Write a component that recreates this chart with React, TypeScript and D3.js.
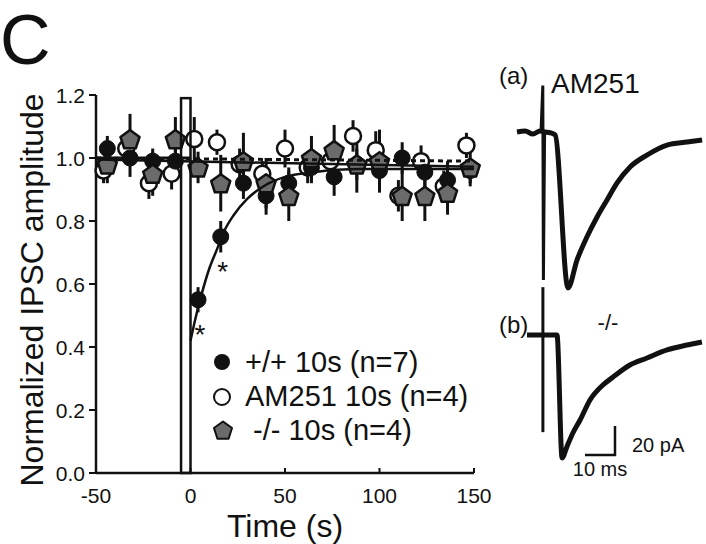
import React from 'react';
import * as d3 from 'd3';

// ---------- data ----------
const timesWT = [-44, -32, -20, -8, 4, 16, 28, 40, 52, 64, 76, 88, 100, 112, 124, 136, 148];
const wtMean = [1.03, 1.0, 0.99, 0.99, 0.55, 0.75, 0.92, 0.88, 0.92, 0.97, 0.94, 0.98, 0.96, 1.0, 0.955, 0.93, 0.96];
const wtSem = [0.04, 0.06, 0.04, 0.05, 0.04, 0.05, 0.05, 0.06, 0.05, 0.05, 0.06, 0.05, 0.06, 0.05, 0.05, 0.06, 0.04];

const timesAM = [-46, -34, -22, -10, 2, 14, 26, 38, 50, 62, 74, 86, 98, 110, 122, 134, 146];
const amMean = [0.96, 1.03, 0.92, 0.95, 1.06, 1.05, 0.98, 0.95, 1.03, 0.97, 0.99, 1.07, 1.025, 0.88, 0.99, 0.91, 1.04];
const amSem = [0.04, 0.05, 0.05, 0.05, 0.07, 0.04, 0.05, 0.04, 0.06, 0.05, 0.05, 0.05, 0.06, 0.05, 0.05, 0.05, 0.04];

const timesKO = [-44, -32, -20, -8, 4, 16, 28, 40, 52, 64, 76, 88, 100, 112, 124, 136, 148];
const koMean = [0.98, 1.06, 0.95, 1.06, 0.97, 0.92, 0.99, 0.92, 0.88, 1.0, 1.025, 0.98, 0.99, 0.88, 0.88, 0.89, 0.97];
const koSem = [0.06, 0.08, 0.07, 0.07, 0.05, 0.09, 0.09, 0.08, 0.08, 0.07, 0.08, 0.09, 0.1, 0.08, 0.08, 0.07, 0.06];

const significantTimes = [4, 16];

// fitted curves
const fitWTpreT = [-50, 0];
const fitWTpreV = [1.0, 1.0];
const fitWTt = [0, 3, 6, 10, 14, 18, 23, 30, 40, 50, 65, 90, 150];
const fitWTv = [0.42, 0.5, 0.57, 0.65, 0.71, 0.77, 0.82, 0.87, 0.915, 0.94, 0.955, 0.965, 0.965];
const fitAMt = [-50, 150];
const fitAMv = [1.0, 0.99];
const fitKOt = [-50, 150];
const fitKOv = [0.995, 0.972];

const stimulusWindow = [-5, 0];
const stimulusHeight = 1.19;

const xTicks = [-50, 0, 50, 100, 150];
const yTicks = [0, 0.2, 0.4, 0.6, 0.8, 1.0, 1.2];

const legendLabels = ['+/+ 10s (n=7)', 'AM251 10s (n=4)', ' -/- 10s (n=4)'];

// example IPSC traces (ms, pA)
const traceAms = [0, 2.7, 5.3, 7.7, 9.3, 11, 12.7, 17, 20, 23.3, 26.7, 30, 33.3, 37.7, 43.3, 50, 56.7, 61.7];
const traceApA = [0, 0.7, -1.4, 0.7, 0, -0.5, -2, -107.6, -88.3, -72.4, -58.6, -46.9, -35.2, -24.1, -15.9, -9, -6.9, -5.5];
const artifactAms = [8.0, 8.6, 8.8, 9.2];
const artifactApA = [0, 32, -102, 0];

const traceBms = [0, 4.3, 10, 11.7, 13.3, 15.3, 17.7, 21, 25.3, 28.7, 34.3, 40, 46.7, 53.3, 58.3];
const traceBpA = [0, 0, 0, -84.8, -77, -67.6, -58.6, -44.8, -34.5, -29, -20.7, -15.9, -10.3, -6.9, -4.8];
const artifactBms = [5.3, 5.3];
const artifactBpA = [33, -67];

const scaleBarMs = 10;
const scaleBarPA = 20;

// ---------- drawing ----------
const FONT = '"Liberation Sans", Arial, Helvetica, sans-serif';

const x = d3.scaleLinear().domain([-50, 150]).range([96, 474]);
const y = d3.scaleLinear().domain([0, 1.2]).range([473, 95]);

// trace scales: 3 px/ms, 1.45 px/pA
const txA = d3.scaleLinear().domain([0, 10]).range([517, 547]);
const tyA = d3.scaleLinear().domain([0, -20]).range([132, 161]);
const txB = d3.scaleLinear().domain([0, 10]).range([527, 557]);
const tyB = d3.scaleLinear().domain([0, -20]).range([335, 364]);

function pentagon(cx: number, cy: number, r: number) {
  const pts = d3.range(5).map((i) => {
    const a = -Math.PI / 2 + (i * 2 * Math.PI) / 5;
    return [cx + r * Math.cos(a), cy + r * Math.sin(a)];
  });
  return 'M' + pts.map((p) => p.join(',')).join('L') + 'Z';
}

function zip(a: number[], b: number[]): [number, number][] {
  return a.map((v, i) => [v, b[i]]);
}

export default function App() {
  const lineXY = d3
    .line<[number, number]>()
    .x((d) => x(d[0]))
    .y((d) => y(d[1]));
  const curveXY = d3
    .line<[number, number]>()
    .x((d) => x(d[0]))
    .y((d) => y(d[1]))
    .curve(d3.curveMonotoneX);

  const trA = d3.line<[number, number]>().x((d) => txA(d[0])).y((d) => tyA(d[1])).curve(d3.curveMonotoneX);
  const trALin = d3.line<[number, number]>().x((d) => txA(d[0])).y((d) => tyA(d[1]));
  const trB = d3.line<[number, number]>().x((d) => txB(d[0])).y((d) => tyB(d[1])).curve(d3.curveMonotoneX);
  const trBLin = d3.line<[number, number]>().x((d) => txB(d[0])).y((d) => tyB(d[1]));

  const sbX0 = 585;
  const sbY0 = 455;
  const sbW = txB(scaleBarMs) - txB(0);
  const sbH = tyB(-scaleBarPA) - tyB(0);

  const errBars = (ts: number[], ms: number[], ss: number[], key: string) =>
    ts.map((t, i) => (
      <line
        key={key + i}
        x1={x(t)}
        x2={x(t)}
        y1={y(ms[i] + ss[i])}
        y2={y(ms[i] - ss[i])}
        stroke="#111"
        strokeWidth={3}
      />
    ));

  return (
    <svg
      width={706}
      height={544}
      style={{ position: 'absolute', left: 0, top: 0, background: '#fff' }}
      fontFamily={FONT}
    >
      <rect x={0} y={0} width={706} height={544} fill="#fff" />
      <text x={0} y={64} fontSize={70} fill="#111">
        C
      </text>

      {/* axes */}
      <line x1={x(-50)} x2={x(150)} y1={y(0)} y2={y(0)} stroke="#111" strokeWidth={2.5} />
      <line x1={x(-50)} x2={x(-50)} y1={y(0) + 1} y2={y(1.2)} stroke="#111" strokeWidth={2.5} />
      {yTicks.map((v) => (
        <g key={'yt' + v}>
          <line x1={x(-50) - 7} x2={x(-50)} y1={y(v)} y2={y(v)} stroke="#111" strokeWidth={2} />
          <text x={85} y={y(v) + 7.5} fontSize={21} textAnchor="end" fill="#111">
            {v.toFixed(1)}
          </text>
        </g>
      ))}
      {xTicks.map((t) => (
        <g key={'xt' + t}>
          <line x1={x(t)} x2={x(t)} y1={y(0)} y2={y(0) - 5} stroke="#111" strokeWidth={2} />
          <text x={x(t)} y={503} fontSize={21} textAnchor="middle" fill="#111">
            {t}
          </text>
        </g>
      ))}
      <text x={285} y={537} fontSize={32} textAnchor="middle" fill="#111">
        Time (s)
      </text>
      <text transform="translate(43,290) rotate(-90)" fontSize={32} textAnchor="middle" fill="#111">
        Normalized IPSC amplitude
      </text>

      {/* error bars */}
      {errBars(timesAM, amMean, amSem, 'ea')}
      {errBars(timesWT, wtMean, wtSem, 'ew')}
      {errBars(timesKO, koMean, koSem, 'ek')}

      {/* markers */}
      {timesAM.map((t, i) => (
        <circle key={'am' + i} cx={x(t)} cy={y(amMean[i])} r={8} fill="#fff" stroke="#111" strokeWidth={2.5} />
      ))}
      {timesWT.map((t, i) => (
        <circle key={'wt' + i} cx={x(t)} cy={y(wtMean[i])} r={8} fill="#111" stroke="#111" strokeWidth={1} />
      ))}
      {timesKO.map((t, i) => (
        <path key={'ko' + i} d={pentagon(x(t), y(koMean[i]) + 1, 10)} fill="#6b6b6b" stroke="#111" strokeWidth={2.5} strokeLinejoin="round" />
      ))}

      {/* fits */}
      <path d={lineXY(zip(fitKOt, fitKOv)) || ''} fill="none" stroke="#111" strokeWidth={2.5} />
      <path d={lineXY(zip(fitAMt, fitAMv)) || ''} fill="none" stroke="#111" strokeWidth={3} strokeDasharray="5,4" />
      <path d={lineXY(zip(fitWTpreT, fitWTpreV)) || ''} fill="none" stroke="#111" strokeWidth={3} />
      <path d={curveXY(zip(fitWTt, fitWTv)) || ''} fill="none" stroke="#111" strokeWidth={2.5} />

      {/* stimulus bar */}
      <rect
        x={x(stimulusWindow[0])}
        y={y(stimulusHeight)}
        width={x(stimulusWindow[1]) - x(stimulusWindow[0])}
        height={y(0) - y(stimulusHeight)}
        fill="none"
        stroke="#111"
        strokeWidth={2.5}
      />

      {/* significance */}
      {significantTimes.map((t) => {
        const i = timesWT.indexOf(t);
        return (
          <text key={'s' + t} x={x(t) + 2} y={y(wtMean[i]) + 44} fontSize={28} textAnchor="middle" fill="#111">
            *
          </text>
        );
      })}

      {/* legend */}
      <circle cx={222} cy={362} r={8} fill="#111" />
      <circle cx={222} cy={397} r={8} fill="#fff" stroke="#111" strokeWidth={2} />
      <path d={pentagon(223, 431, 9.5)} fill="#6b6b6b" stroke="#111" strokeWidth={2} strokeLinejoin="round" />
      {legendLabels.map((l, i) => (
        <text key={'lg' + i} x={245} y={372 + i * 34} fontSize={29} fill="#111" style={{ whiteSpace: 'pre' }}>
          {l}
        </text>
      ))}

      {/* traces */}
      <text x={499} y={84} fontSize={24} fill="#111">
        (a)
      </text>
      <text x={551} y={93} fontSize={28} fill="#111">
        AM251
      </text>
      <path d={trA(zip(traceAms, traceApA)) || ''} fill="none" stroke="#111" strokeWidth={5} strokeLinejoin="round" />
      <path d={trALin(zip(artifactAms, artifactApA)) || ''} fill="none" stroke="#111" strokeWidth={3} />

      <text x={499} y={333} fontSize={24} fill="#111">
        (b)
      </text>
      <text x={608} y={330} fontSize={22} textAnchor="middle" fill="#111">
        -/-
      </text>
      <path d={trB(zip(traceBms, traceBpA)) || ''} fill="none" stroke="#111" strokeWidth={5} strokeLinejoin="round" />
      <path d={trBLin(zip(artifactBms, artifactBpA)) || ''} fill="none" stroke="#111" strokeWidth={3} />

      {/* scale bar */}
      <path
        d={`M${sbX0},${sbY0}H${sbX0 + sbW}V${sbY0 - sbH}`}
        fill="none"
        stroke="#111"
        strokeWidth={2.5}
      />
      <text x={632} y={452} fontSize={20} fill="#111">
        {scaleBarPA} pA
      </text>
      <text x={600} y={476} fontSize={20} textAnchor="middle" fill="#111">
        {scaleBarMs} ms
      </text>
    </svg>
  );
}
